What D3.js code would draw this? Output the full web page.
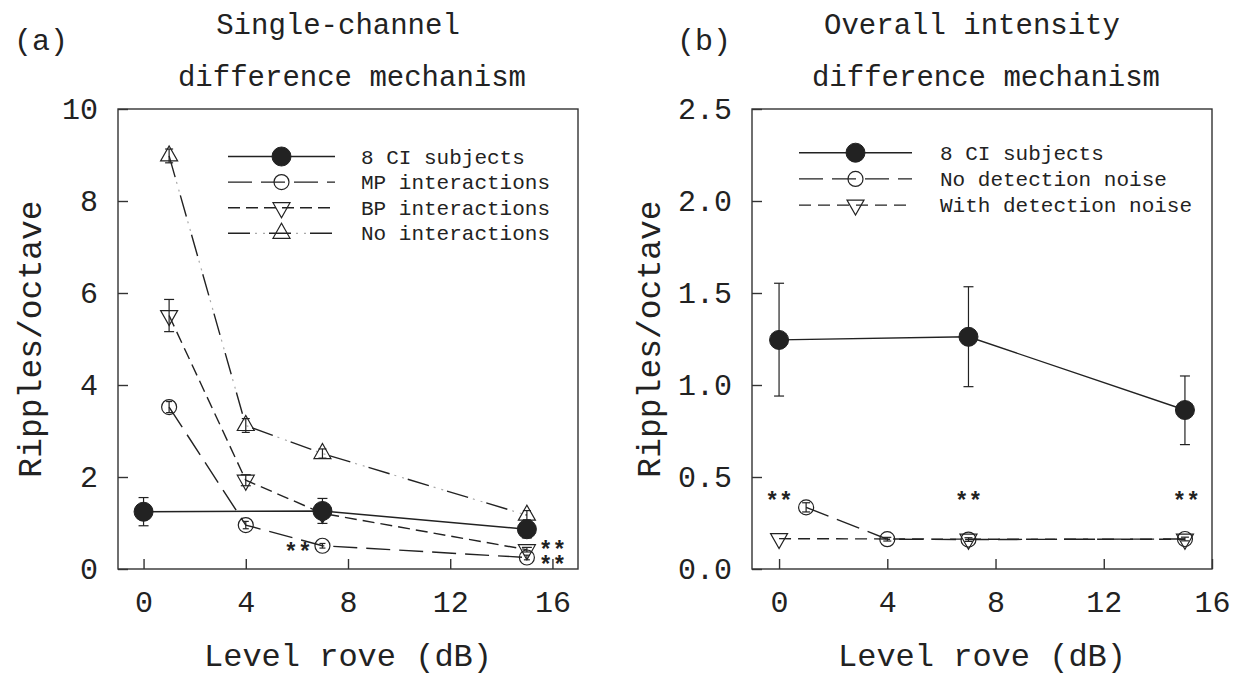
<!DOCTYPE html>
<html><head><meta charset="utf-8">
<script src="https://cdn.jsdelivr.net/npm/d3@7"></script>
<style>
body{margin:0;background:#fff;}
svg{display:block;}
text{font-family:"Liberation Mono","Courier New",monospace;fill:#222;}
</style></head>
<body>
<svg id="chart" width="1239" height="675"></svg>
<script>
// ---------- DATA ----------
const xTicksA = [0, 4, 8, 12, 16];
const yTicksA = [0, 2, 4, 6, 8, 10];
const xTicksB = [0, 4, 8, 12, 16];
const yTicksB = [0, 0.5, 1.0, 1.5, 2.0, 2.5];

// CI subjects (both panels)
const roveCI = [0, 7, 15];
const ciMean = [1.245, 1.262, 0.864];
const ciLow  = [0.94, 0.991, 0.676];
const ciHigh = [1.553, 1.534, 1.049];

// Panel (a) model predictions
const roveModel = [1, 4, 7, 15];
const mpMean = [3.52, 0.955, 0.505, 0.25];
const mpErr  = [0.12, 0.08, 0.05, 0.05];
const bpMean = [5.51, 1.93, 1.21, 0.42];
const bpErr  = [0.35, 0.12, 0.08, 0.05];
const niMean = [8.98, 3.12, 2.51, 1.17];
const niErr  = [0.15, 0.15, 0.1, 0.1];

// Panel (b) model predictions
const roveNoNoise = [1, 4, 7, 15];
const noNoiseMean = [0.335, 0.162, 0.16, 0.163];
const noNoiseErr  = [0.025, 0.01, 0.01, 0.01];
const roveWithNoise = [0, 7, 15];
const withNoiseMean = [0.165, 0.162, 0.162];

// significance annotations (data coordinates; each entry may hold several stacked marks)
const starsA = [[6.04, [0.46]], [16.0, [0.5, 0.18]]];
const starsB = [[0, [0.39]], [7, [0.39]], [15.05, [0.39]]];

const legendA = ["8 CI subjects", "MP interactions", "BP interactions", "No interactions"];
const legendB = ["8 CI subjects", "No detection noise", "With detection noise"];

// ---------- DRAW ----------
const svg = d3.select("#chart");
const ink = "#222";
const SW = 1.4;

const dashMP = "24,9";
const dashBP = "12,6";
const dashNI = "22,19";            // long dashes; faint dots drawn as an underlay
const dashNIdots = "0,27,2,6,2,4";
const dashNoNoise = "24,9";
const dashWithNoise = "12,7";

function marker(g, type, cx, cy) {
  if (type === "filled") {
    g.append("circle").attr("cx", cx).attr("cy", cy).attr("r", 9.5).attr("fill", ink).attr("stroke", ink);
  } else if (type === "circle") {
    g.append("circle").attr("cx", cx).attr("cy", cy).attr("r", 7.5).attr("fill", "none").attr("stroke", ink).attr("stroke-width", 1.2);
  } else if (type === "down") {
    const h = 15, w = 8.5;
    g.append("path").attr("d", `M${cx - w},${cy - h / 3}L${cx + w},${cy - h / 3}L${cx},${cy + 2 * h / 3}Z`)
      .attr("fill", "none").attr("stroke", ink).attr("stroke-width", 1.2);
  } else if (type === "up") {
    const h = 15, w = 8.5;
    g.append("path").attr("d", `M${cx - w},${cy + h / 3}L${cx + w},${cy + h / 3}L${cx},${cy - 2 * h / 3}Z`)
      .attr("fill", "none").attr("stroke", ink).attr("stroke-width", 1.2);
  }
}

function errBar(g, x, y, lo, hi, cap) {
  g.append("line").attr("x1", x).attr("x2", x).attr("y1", y(lo)).attr("y2", y(hi)).attr("stroke", ink).attr("stroke-width", 1.2);
  [lo, hi].forEach(v => g.append("line").attr("x1", x - cap).attr("x2", x + cap).attr("y1", y(v)).attr("y2", y(v)).attr("stroke", ink).attr("stroke-width", 1.2));
}

function strokePath(g, d, dash) {
  if (dash === dashNI) {
    g.append("path").attr("d", d).attr("fill", "none").attr("stroke", "#aaa")
      .attr("stroke-width", 1.2).attr("stroke-dasharray", dashNIdots);
  }
  g.append("path").attr("d", d).attr("fill", "none").attr("stroke", ink)
    .attr("stroke-width", SW).attr("stroke-dasharray", dash);
}

function series(g, x, y, xs, ys, dash, type, errLo, errHi, cap) {
  const pts = xs.map((d, i) => [x(d), y(ys[i])]);
  strokePath(g, d3.line()(pts), dash);
  xs.forEach((d, i) => {
    if (errLo) errBar(g, x(d), y, errLo[i], errHi[i], cap);
    marker(g, type, x(d), y(ys[i]));
  });
}

function panel(opt) {
  const g = svg.append("g");
  const x = d3.scaleLinear().domain(opt.xDomain).range([opt.left, opt.right]);
  const y = d3.scaleLinear().domain(opt.yDomain).range([569, 109]);
  g.append("rect").attr("x", opt.left).attr("y", 109).attr("width", opt.right - opt.left).attr("height", 460)
    .attr("fill", "none").attr("stroke", "#333").attr("stroke-width", 1.4);
  const xa = g.append("g").attr("transform", "translate(0,569)")
    .call(d3.axisBottom(x).tickValues(opt.xTicks).tickSizeInner(-10).tickSizeOuter(0).tickPadding(22).tickFormat(d3.format("d")));
  const ya = g.append("g").attr("transform", `translate(${opt.left},0)`)
    .call(d3.axisLeft(y).tickValues(opt.yTicks).tickSizeInner(-10).tickSizeOuter(0).tickPadding(20).tickFormat(opt.yFormat));
  [xa, ya].forEach(a => {
    a.select(".domain").remove();
    a.selectAll(".tick line").attr("stroke", "#333").attr("stroke-width", 1.4);
    a.selectAll(".tick text").attr("font-family", "Liberation Mono").attr("font-size", 30).attr("fill", "#222");
  });
  g.append("text").attr("x", (opt.left + opt.right) / 2).attr("y", 666).attr("text-anchor", "middle")
    .attr("font-size", 32).text("Level rove (dB)");
  g.append("text").attr("transform", `translate(${opt.ylabX},339) rotate(-90)`).attr("text-anchor", "middle")
    .attr("font-size", 33).text("Ripples/octave");
  g.append("text").attr("x", opt.tagX).attr("y", 50).attr("font-size", 30).text(opt.tag);
  g.append("text").attr("x", opt.title1X).attr("y", 34).attr("text-anchor", "middle").attr("font-size", 29).text(opt.title1);
  g.append("text").attr("x", opt.title2X).attr("y", 86).attr("text-anchor", "middle").attr("font-size", 29).text(opt.title2);
  return { g, x, y };
}

// Panel (a)
const A = panel({
  left: 118, right: 578, xDomain: [-1, 17], yDomain: [0, 10], xTicks: xTicksA, yTicks: yTicksA,
  yFormat: d3.format("d"), ylabX: 41, tag: "(a)", tagX: 14, title1X: 338, title2X: 352,
  title1: "Single-channel", title2: "difference mechanism"
});
series(A.g, A.x, A.y, roveModel, niMean, dashNI, "up", niMean.map((v, i) => v - niErr[i]), niMean.map((v, i) => v + niErr[i]), 4);
series(A.g, A.x, A.y, roveModel, bpMean, dashBP, "down", bpMean.map((v, i) => v - bpErr[i]), bpMean.map((v, i) => v + bpErr[i]), 5);
series(A.g, A.x, A.y, roveModel, mpMean, dashMP, "circle", mpMean.map((v, i) => v - mpErr[i]), mpMean.map((v, i) => v + mpErr[i]), 3);
series(A.g, A.x, A.y, roveCI, ciMean, null, "filled", ciLow, ciHigh, 5);

// Panel (b)
const B = panel({
  left: 752, right: 1212, xDomain: [-1, 16], yDomain: [0, 2.5], xTicks: xTicksB, yTicks: yTicksB,
  yFormat: d3.format(".1f"), ylabX: 660, tag: "(b)", tagX: 677, title1X: 972, title2X: 986,
  title1: "Overall intensity", title2: "difference mechanism"
});
series(B.g, B.x, B.y, roveWithNoise, withNoiseMean, dashWithNoise, "down", null, null, 0);
series(B.g, B.x, B.y, roveNoNoise, noNoiseMean, dashNoNoise, "circle", noNoiseMean.map((v, i) => v - noNoiseErr[i]), noNoiseMean.map((v, i) => v + noNoiseErr[i]), 4);
series(B.g, B.x, B.y, roveCI, ciMean, null, "filled", ciLow, ciHigh, 5);

// asterisks (stacked marks share one text element)
function stars(P, list) {
  list.forEach(([sx, ys]) => {
    const t = P.g.append("text").attr("text-anchor", "middle")
      .attr("font-family", "DejaVu Sans").attr("font-weight", "bold").attr("font-size", 23).attr("fill", "#111");
    ys.forEach(sy => t.append("tspan").attr("x", P.x(sx)).attr("y", P.y(sy) + 12).text("**"));
  });
}
stars(A, starsA);
stars(B, starsB);

// legends
function legend(P, items, styles, x0, x1, tx, y0, dy) {
  items.forEach((lab, i) => {
    const yy = y0 + i * dy;
    const [dash, type] = styles[i];
    strokePath(P.g, `M${x0},${yy}L${x1},${yy}`, dash);
    marker(P.g, type, (x0 + x1) / 2, yy);
    P.g.append("text").attr("x", tx).attr("y", yy + 7).attr("font-size", 21).text(lab);
  });
}
legend(A, legendA, [[null, "filled"], [dashMP, "circle"], [dashBP, "down"], [dashNI, "up"]], 228, 335, 361, 156.5, 25.6);
legend(B, legendB, [[null, "filled"], [dashNoNoise, "circle"], [dashWithNoise, "down"]], 799, 912, 940, 152.7, 26.2);
</script>
</body></html>
